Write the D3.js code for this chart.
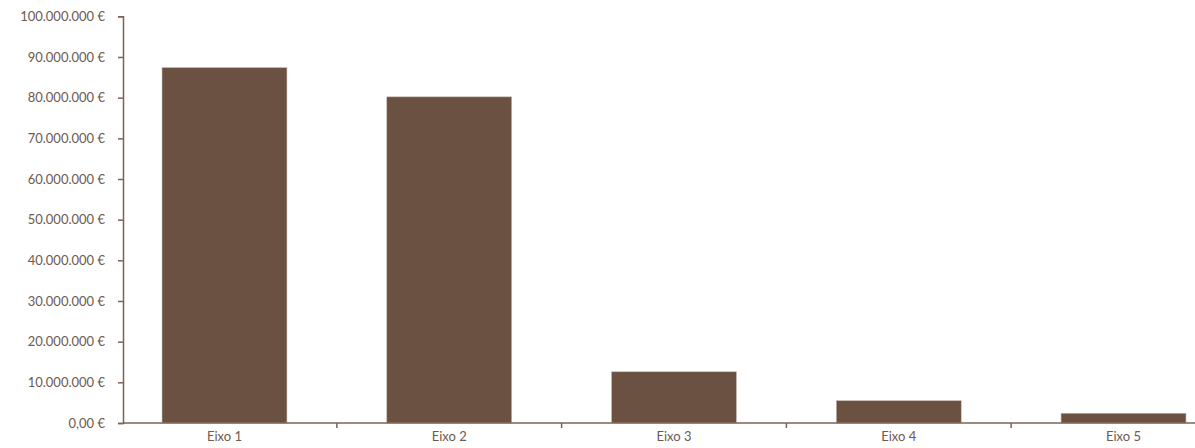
<!DOCTYPE html>
<html>
<head>
<meta charset="utf-8">
<script src="https://cdn.jsdelivr.net/npm/d3@7"></script>
<style>
  html, body { margin: 0; padding: 0; background: #fff; }
  svg text { font-family: Lato, "Open Sans", sans-serif; }
</style>
</head>
<body>
<svg id="chart" width="1195" height="448"></svg>
<script>
const categories = ["Eixo 1", "Eixo 2", "Eixo 3", "Eixo 4", "Eixo 5"];
const values = [87400000, 80200000, 12600000, 5500000, 2400000];
const yTickValues = [0, 10000000, 20000000, 30000000, 40000000, 50000000, 60000000, 70000000, 80000000, 90000000, 100000000];
const yTickLabels = ["0,00 €", "10.000.000 €", "20.000.000 €", "30.000.000 €", "40.000.000 €", "50.000.000 €", "60.000.000 €", "70.000.000 €", "80.000.000 €", "90.000.000 €", "100.000.000 €"];

const barColor = "#6a5142";
const axisColor = "#7b6254";
const textColor = "#6e5a4f";

const svg = d3.select("#chart");
const axisX0 = 123, plotBottom = 423, plotTop = 16.3;

const x = d3.scaleBand().domain(categories).range([162, 1186]).paddingInner(0.444).paddingOuter(0);
const y = d3.scaleLinear().domain([0, 100000000]).range([plotBottom, plotTop]);

// bars
svg.append("g").selectAll("rect").data(values).join("rect")
  .attr("x", (d, i) => x(categories[i]))
  .attr("y", d => y(d))
  .attr("width", x.bandwidth())
  .attr("height", d => y(0) - y(d))
  .attr("fill", barColor)
  .attr("stroke", "#c9bfba")
  .attr("stroke-width", 0.6);

// y axis
const yAxis = d3.axisLeft(y).tickValues(yTickValues)
  .tickFormat((d, i) => yTickLabels[i]).tickSize(5).tickSizeOuter(5).tickPadding(13);
const gy = svg.append("g").attr("transform", `translate(${axisX0},0)`).call(yAxis);
gy.select(".domain").attr("stroke", axisColor).attr("stroke-width", 1.5);
gy.selectAll(".tick line").attr("stroke", axisColor).attr("stroke-width", 1.5);
gy.selectAll(".tick text").attr("fill", textColor).style("font-size", "13px");

// x axis line
svg.append("line").attr("x1", axisX0).attr("x2", 1195)
  .attr("y1", plotBottom).attr("y2", plotBottom)
  .attr("stroke", axisColor).attr("stroke-width", 1.5);

// x tick marks at band boundaries
const step = x.step();
svg.append("g").selectAll("line").data(categories.slice(1)).join("line")
  .attr("x1", d => x(d) - (step - x.bandwidth()) / 2)
  .attr("x2", d => x(d) - (step - x.bandwidth()) / 2)
  .attr("y1", plotBottom).attr("y2", plotBottom + 5)
  .attr("stroke", axisColor).attr("stroke-width", 1.5);

// x labels
svg.append("g").selectAll("text").data(categories).join("text")
  .attr("x", d => x(d) + x.bandwidth() / 2)
  .attr("y", 441)
  .attr("text-anchor", "middle")
  .attr("fill", textColor)
  .style("font-size", "13px")
  .text(d => d);
</script>
</body>
</html>
